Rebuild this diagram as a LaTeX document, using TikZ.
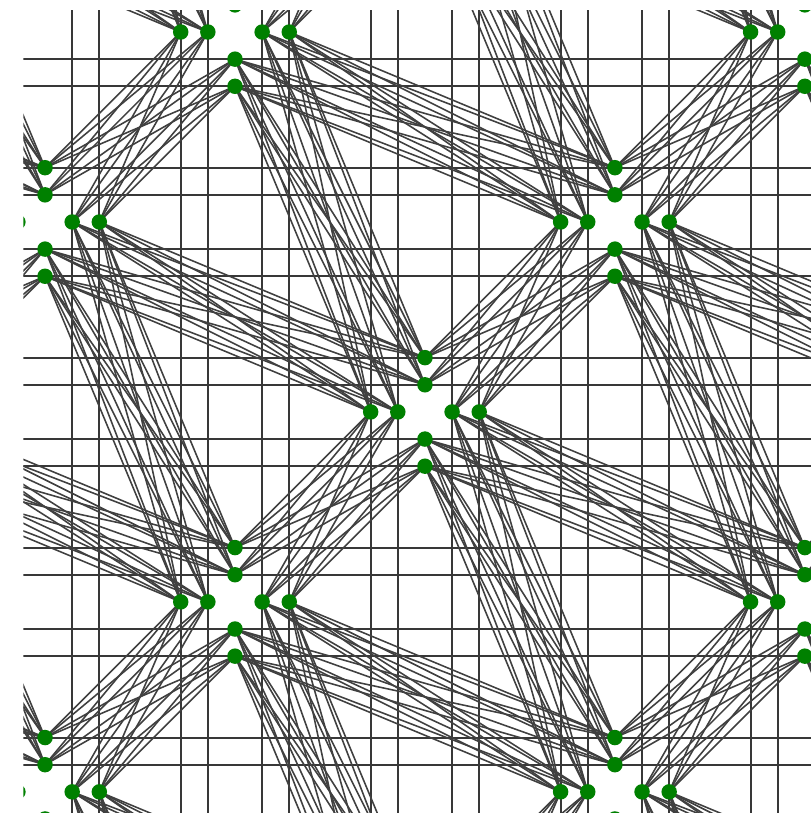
\documentclass[tikz,border=0pt]{standalone}
\definecolor{gridc}{HTML}{383838}
\definecolor{linec}{HTML}{404040}
\definecolor{dotc}{HTML}{008000}
\tikzset{
  gridline/.style={draw=gridc, line width=2pt},
  link/.style={draw=linec, line width=1.65pt},
  dot/.style={circle, fill=dotc, draw=none, minimum size=0.57cm, inner sep=0pt},
}
\begin{document}
\begin{tikzpicture}[x=1cm,y=1cm]
\useasboundingbox (-15.66,-14.78) rectangle (14.19,15.18);
\begin{scope}
\clip (-14.8,-16) rectangle (16,14.78);
% dot positions of every cluster
\foreach \m in {-6,...,6}{
 \foreach \n in {-6,...,6}{
  \pgfmathtruncatemacro\ok{mod(\m-\n+60,3)}
  \ifnum\ok=0
   \foreach \d/\dx/\dy in {N2/0/2,N1/0/1,W2/-2/0,W1/-1/0,E1/1/0,E2/2/0,S1/0/-1,S2/0/-2}{
     \coordinate (c\m y\n-\d) at ({7*\m+\dx},{7*\n+\dy});
   }
  \fi
 }
}
% grid
\foreach \v in {-13,-12,-9,-8,-6,-5,-2,-1,1,2,5,6,8,9,12,13,15,16}{
  \draw[gridline] (\v,-16) -- (\v,16);
}
\foreach \v in {-16,-15,-13,-12,-9,-8,-6,-5,-2,-1,1,2,5,6,8,9,12,13,15}{
  \draw[gridline] (-16,\v) -- (16,\v);
}
% links between neighbouring clusters
\foreach \m in {-4,...,4}{
 \foreach \n in {-4,...,4}{
  \pgfmathtruncatemacro\ok{mod(\m-\n+60,3)}
  \ifnum\ok=0
   \pgfmathtruncatemacro\ma{\m+1}\pgfmathtruncatemacro\na{\n+1}
   \pgfmathtruncatemacro\mb{\m+2}\pgfmathtruncatemacro\nb{\n-1}
   \pgfmathtruncatemacro\mc{\m+1}\pgfmathtruncatemacro\nc{\n-2}
   \foreach \s in {N1,N2,E1,E2}{
     \foreach \t in {W1,W2,S1,S2}{
       \draw[link] (c\m y\n-\s) -- (c\ma y\na-\t);
     }
   }
   \foreach \s in {E1,E2,S1,S2}{
     \foreach \t in {W1,W2,N1,N2}{
       \draw[link] (c\m y\n-\s) -- (c\mb y\nb-\t);
       \draw[link] (c\m y\n-\s) -- (c\mc y\nc-\t);
     }
   }
  \fi
 }
}
% dots
\foreach \m in {-4,...,4}{
 \foreach \n in {-4,...,4}{
  \pgfmathtruncatemacro\ok{mod(\m-\n+60,3)}
  \ifnum\ok=0
   \foreach \d in {N2,N1,W2,W1,E1,E2,S1,S2}{
     \node[dot] (d\m y\n-\d) at (c\m y\n-\d) {};
   }
  \fi
 }
}
\end{scope}
\end{tikzpicture}
\end{document}
